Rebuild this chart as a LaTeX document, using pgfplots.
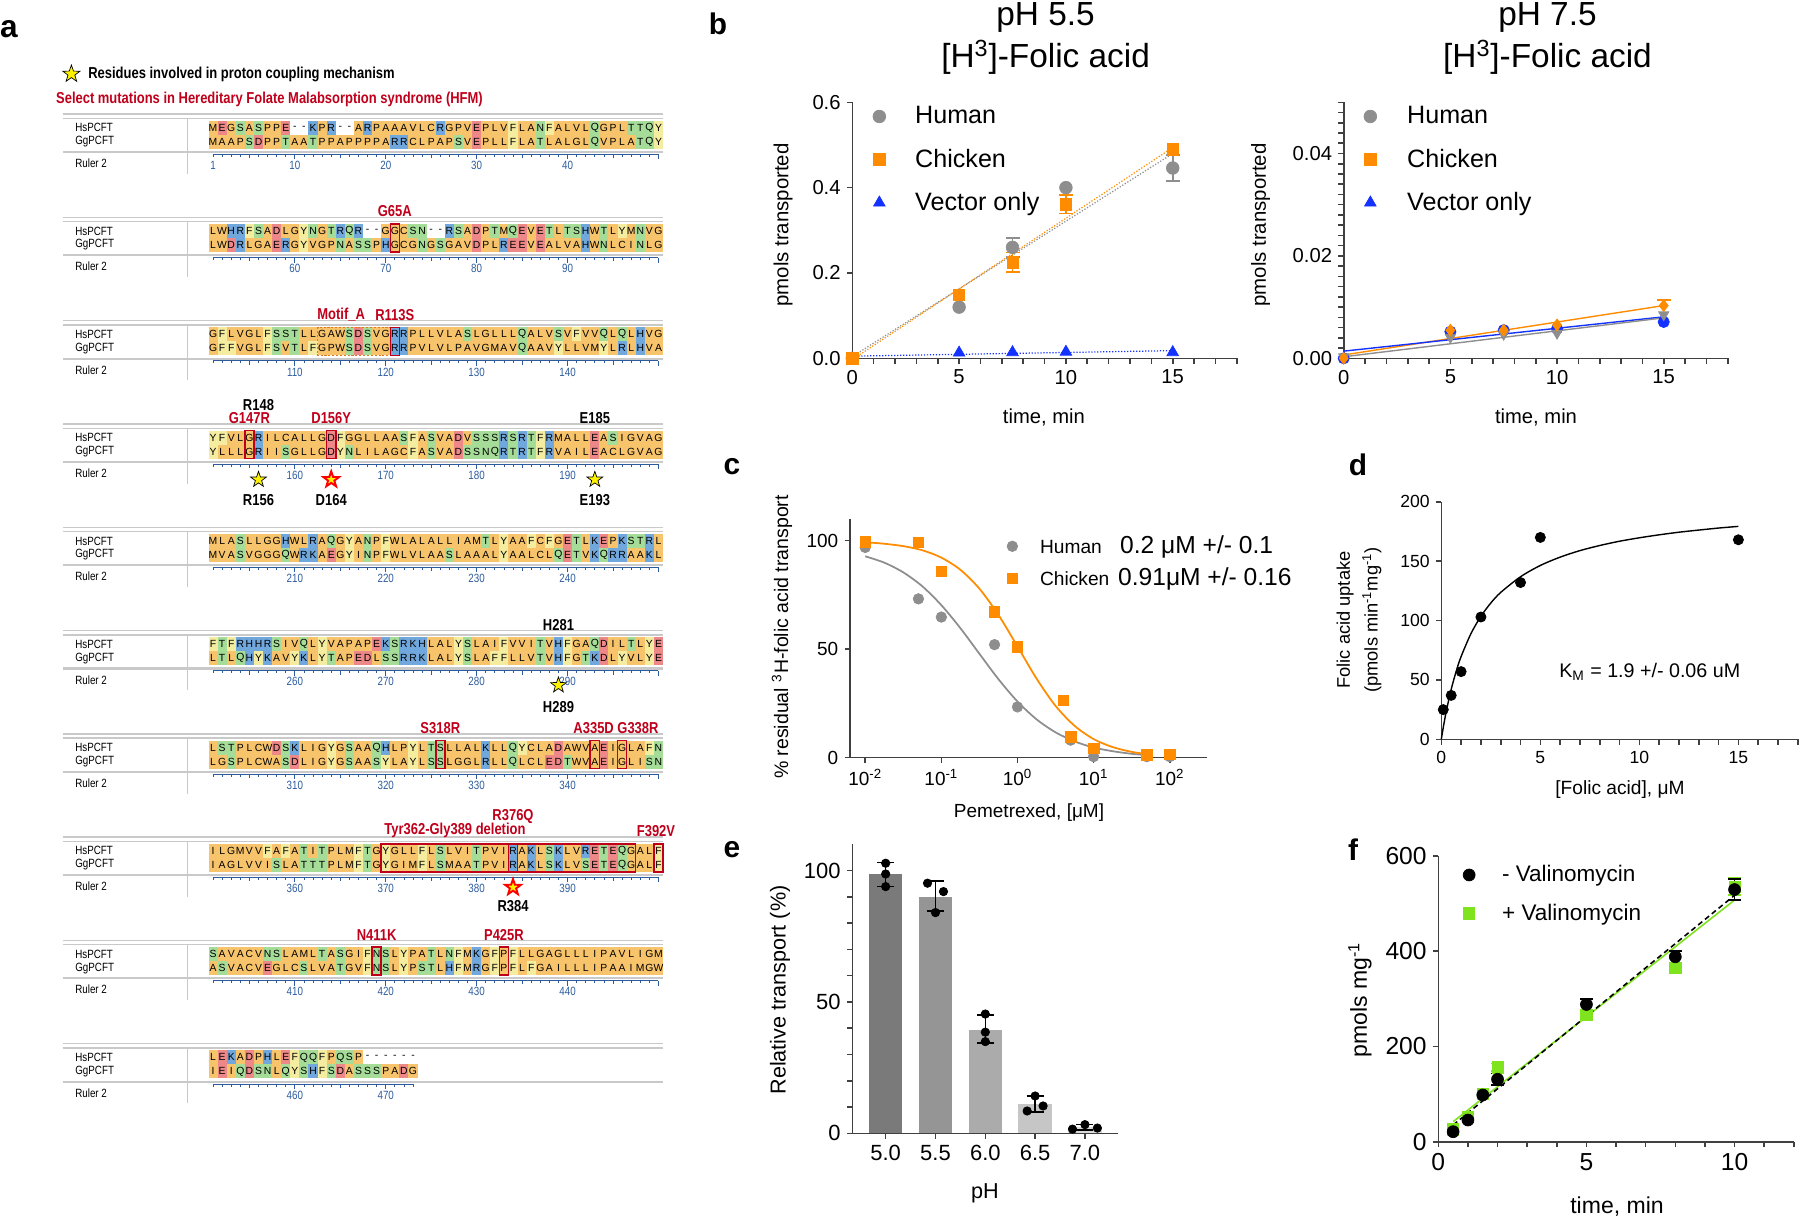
\documentclass[border=0pt]{standalone}
\usepackage{fontspec}
\setmainfont{Liberation Sans}
\newfontfamily\nar[FakeStretch=0.82]{Liberation Sans}
\usepackage{pgfplots}
\pgfplotsset{compat=1.18}
\usetikzlibrary{shapes.geometric}

\definecolor{hyd}{HTML}{F7C46C}
\definecolor{aro}{HTML}{F4EC9E}
\definecolor{pol}{HTML}{A4DC98}
\definecolor{acd}{HTML}{EE8787}
\definecolor{bas}{HTML}{70A8DE}
\definecolor{redann}{HTML}{C0001B}
\definecolor{rulc}{HTML}{2D5C9E}
\definecolor{linegray}{HTML}{C9C9C9}
\definecolor{motif}{HTML}{E07A20}
\definecolor{axc}{HTML}{404040}
\definecolor{gpgray}{HTML}{8E8E8E}
\definecolor{gporange}{HTML}{FF8C00}
\definecolor{gpblue}{HTML}{1432FF}
\definecolor{gpgreen}{HTML}{7FE31E}
\definecolor{eA}{HTML}{7A7A7A}
\definecolor{eB}{HTML}{959595}
\definecolor{eC}{HTML}{ABABAB}
\definecolor{eD}{HTML}{C6C6C6}
\definecolor{eE}{HTML}{DADADA}

\def\defrc#1#2{\expandafter\def\csname rc#1\endcsname{#2}}
\defrc{A}{hyd}\defrc{V}{hyd}\defrc{L}{hyd}\defrc{I}{hyd}\defrc{M}{hyd}
\defrc{P}{hyd}\defrc{G}{hyd}\defrc{C}{hyd}\defrc{W}{hyd}
\defrc{F}{aro}\defrc{Y}{aro}
\defrc{S}{pol}\defrc{T}{pol}\defrc{N}{pol}\defrc{Q}{pol}
\defrc{D}{acd}\defrc{E}{acd}
\defrc{K}{bas}\defrc{R}{bas}\defrc{H}{bas}
\defrc{-}{white}

\newcommand\resfont{\fontsize{5.9}{6}\selectfont}
\newcommand\lblfont{\nar\fontsize{6.8}{8}\selectfont}
\newcommand\rulfont{\nar\fontsize{6.8}{8}\selectfont}
\newcommand\annfont{\nar\bfseries\fontsize{9}{10}\selectfont}

\newcount\rcol
\def\drawres#1{%
  \pgfmathsetmacro\rx{208.5+9.09*\the\rcol}%
  \fill[\csname rc#1\endcsname] ({\rx},{\rowy-7}) rectangle ({\rx+9.09},{\rowy+7});%
  \node[font=\resfont,inner sep=0pt] at ({\rx+4.545},{\rowy}) {#1};}
\def\seqloop#1{\ifx\relax#1\else\drawres{#1}\advance\rcol by 1 \expandafter\seqloop\fi}
\def\seqrow#1#2{\def\rowy{#1}\rcol=0 \seqloop#2\relax}

\newcommand\blk[5]{%
\begin{scope}[shift={(0,#1)}]
  \draw[linegray, line width=0.8pt] (62.5,-13.7) -- (663,-13.7);
  \draw[linegray, line width=0.8pt] (62.5,-9.4) -- (663,-9.4);
  \draw[linegray, line width=1.2pt] (62.5,24.3) -- (663,24.3);
  \draw[linegray, line width=0.8pt] (187.5,-9.4) -- (187.5,46);
  \node[anchor=west,font=\lblfont,inner sep=0pt] at (75,0) {HsPCFT};
  \node[anchor=west,font=\lblfont,inner sep=0pt] at (75,14) {GgPCFT};
  \node[anchor=west,font=\lblfont,inner sep=0pt] at (75,35.6) {Ruler 2};
  \seqrow{0}{#2}
  \seqrow{14}{#3}
  \draw[rulc, line width=0.45pt] (213.05,26.5) -- ({208.5+9.09*(#4-0.5)},26.5);
  \foreach \i in {1,...,#4}{%
    \pgfmathsetmacro\tl{ifthenelse(mod(\i,10)==0,5,ifthenelse(mod(\i,5)==0,3.8,2.6))}%
    \draw[rulc, line width=0.45pt] ({208.5+9.09*(\i-0.5)},26.5) -- ++(0,\tl);}
  \foreach \i in {10,20,30,40}{\ifnum\i>#4\relax\else
    \node[font=\rulfont,text=rulc,inner sep=0pt] at ({208.5+9.09*(\i-0.5)},37.6) {\number\numexpr#5+\i\relax};\fi}
\end{scope}}

\newcommand\cx[1]{208.5+9.09*(#1-0.5)}
\newcommand\rbox[2]{\draw[redann, line width=0.9pt] ({208.5+9.09*(#2-1)},{#1-7}) rectangle ({208.5+9.09*#2},{#1+21});}
\newcommand\ann[4][redann]{\node[font=\annfont,text=#1,inner sep=0pt] at ({\cx{#2}},#3) {#4};}
\newcommand\ystar[2]{\node[star,star points=5,star point ratio=2.5,draw=black,fill=yellow,minimum size=3.3mm,inner sep=0pt,line width=0.4pt] at ({\cx{#1}},#2) {};}
\newcommand\rstar[2]{\node[star,star points=5,star point ratio=2.5,draw=red,fill=yellow,minimum size=3.3mm,inner sep=0pt,line width=1.1pt] at ({\cx{#1}},#2) {};}

\pgfplotsset{
  gp/.style={scale only axis, clip=false, axis lines=left,
    axis line style={-, draw=axc, line width=0.9pt},
    tick style={draw=axc, line width=0.9pt}, tick align=outside,
    major tick length=1.1mm, minor tick length=1.1mm,
    /pgf/number format/assume math mode=true, scaled ticks=false,
    legend cell align=left},
  mleg/.style n args={4}{legend style={at={(axis description cs:#1,#2)}, anchor=north west,
    draw=none, fill=none, inner sep=0pt, row sep=#3, nodes={inner sep=0pt},
    /tikz/every odd column/.append style={column sep=#4}},
    legend image code/.code={\draw[##1] plot coordinates {(0mm,0mm)};}},
}

\begin{document}
\begin{tikzpicture}[x=0.2mm,y=-0.2mm]
\path[use as bounding box] (0,0) rectangle (1800,1218);

% ---------------- panel a ----------------
\node[font=\bfseries\fontsize{18}{20}\selectfont,inner sep=0pt] at (9,29) {a};
\node[star,star points=5,star point ratio=2.5,draw=black,fill=yellow,minimum size=3.6mm,inner sep=0pt,line width=0.4pt] at (71.4,74) {};
\node[anchor=west,font=\annfont,inner sep=0pt] at (88,74) {Residues involved in proton coupling mechanism};
\node[anchor=west,font=\annfont,text=redann,inner sep=0pt] at (55.8,99.5) {Select mutations in Hereditary Folate Malabsorption syndrome (HFM)};

\blk{127.7}{MEGSASPPE--KPR--ARPAAAVLCRGPVEPLVFLANFALVLQGPLTTQY}{MAAPSDPPTAATPPAPPPPARRCLPAPSVEPLLFLATLALGLQVPLATQY}{50}{0}
\node[font=\rulfont,text=rulc,inner sep=0pt] at ({\cx{1}},165.3) {1};
\blk{231.0}{LWHRFSADLGYNGTRQR--GGCSN--RSADPTMQEVETLTSHWTLYMNVG}{LWDRLGAERGYVGPNASSPHGCGNGSGAVDPLREEVEALVAHWNLCINLG}{50}{50}
\blk{334.3}{GFLVGLFSSTLLGAWSDSVGRRPLLVLASLGLLLQALVSVFVVQLQLHVG}{GFFVGLFSVTLFGPWSDSVGRRPVLVLPAVGMAVQAAVYLLVMYLRLHVA}{50}{100}
\blk{437.6}{YFVLGRILCALLGDFGGLLAASFASVADVSSSRSRTFRMALLEASIGVAG}{YLLLGRIISGLLGDYNLILAGCFASVADSSNQRTRTFRVAILEACLGVAG}{50}{150}
\blk{540.9}{MLASLLGGHWLRAQGYANPFWLALALLIAMTLYAAFCFGETLKEPKSTRL}{MVASVGGGQWRKAEGYINPFWLVLAASLAAALYAALCLQETVKQRRAAKL}{50}{200}
\blk{644.2}{FTFRHHRSIVQLYVAPAPEKSRKHLALYSLAIFVVITVHFGAQDILTLYE}{LTLQHYKAVYKLYTAPEDLSSRRKLALYSLAFFLLVTVHFGTKDLYVLYE}{50}{250}
\blk{747.5}{LSTPLCWDSKLIGYGSAAQHLPYLTSLLALKLLQYCLADAWVAEIGLAFN}{LGSPLCWASDLIGYGSAASYLAYLSSLGGLRLLQLCLEDTWVAEIGLISN}{50}{300}
\blk{850.8}{ILGMVVFAFATITPLMFTGYGLLFLSLVITPVIRAKLSKLVRETEQGALF}{IAGLVVISLATTTPLMFTGYGIMFLSMAATPVIRAKLSKLVSETEQGALF}{50}{350}
\blk{954.1}{SAVACVNSLAMLTASGIFNSLYPATLNFMKGFPFLLGAGLLLIPAVLIGM}{ASVACVEGLCSLVATGVFNSLYPSTLHFMRGFPFLFGAILLLIPAAIMGW}{50}{400}
\blk{1057.4}{LEKADPHLEFQQFPQSP------}{IEIQDSNLQYSHFSDASSSPADG}{23}{450}

% annotations
\rbox{231.0}{21}\ann{21}{211.4}{G65A}
\draw[motif, line width=0.9pt, dash pattern=on 1.2pt off 1pt] (317.6,327.3) rectangle (390.3,355.3);
\node[anchor=west,font=\annfont,text=redann,inner sep=0pt] at (317,315) {Motif\_A};
\rbox{334.3}{21}\ann{21}{315}{R113S}
\rbox{437.6}{5}\rbox{437.6}{14}
\ann[black]{6}{404.6}{R148}
\ann{5}{417.9}{G147R}\ann{14}{417.9}{D156Y}\ann[black]{43}{417.9}{E185}
\ystar{6}{479.6}\rstar{14}{479.6}\ystar{43}{479.6}
\ann[black]{6}{499.6}{R156}\ann[black]{14}{499.6}{D164}\ann[black]{43}{499.6}{E193}
\ann[black]{39}{625.2}{H281}
\ystar{39}{685.2}\ann[black]{39}{706.9}{H289}
\rbox{747.5}{26}\rbox{747.5}{43}\rbox{747.5}{46}
\ann{26}{727.9}{S318R}
\node[font=\annfont,text=redann,inner sep=0pt] at (616,727.9) {A335D G338R};
\draw[redann, line width=0.9pt] (381.2,843.8) rectangle (635.7,871.8);
\rbox{850.8}{34}\rbox{850.8}{50}
\ann{34}{816.1}{R376Q}
\node[font=\annfont,text=redann,inner sep=0pt] at (455,830.8) {Tyr362-Gly389 deletion};
\node[font=\annfont,text=redann,inner sep=0pt] at (656,830.8) {F392V};
\rstar{34}{887.4}\ann[black]{34}{906}{R384}
\rbox{954.1}{19}\rbox{954.1}{33}
\ann{19}{934.8}{N411K}\ann{33}{934.8}{P425R}

% ---------------- panel letters ----------------
\node[font=\bfseries\fontsize{17}{19}\selectfont,inner sep=0pt] at (718,24) {b};
\node[font=\bfseries\fontsize{17}{19}\selectfont,inner sep=0pt] at (732,467) {c};
\node[font=\bfseries\fontsize{17}{19}\selectfont,inner sep=0pt] at (1358,465) {d};
\node[font=\bfseries\fontsize{17}{19}\selectfont,inner sep=0pt] at (732,850) {e};
\node[font=\bfseries\fontsize{17}{19}\selectfont,inner sep=0pt] at (1353,850) {f};

% ---------------- panel b (pH 5.5) ----------------
\node[font=\fontsize{19}{22}\selectfont,inner sep=0pt] at (1045.6,17) {pH 5.5};
\node[font=\fontsize{19}{22}\selectfont,inner sep=0pt] at (1045.6,57) {[H\textsuperscript{3}]-Folic acid};
\node[rotate=90,font=\fontsize{11.6}{13}\selectfont,inner sep=0pt] at (783.2,225) {pmols transported};
\node[font=\fontsize{11.5}{13}\selectfont,inner sep=0pt] at (1043.9,417) {time, min};
\coordinate (B1) at (852.3,358.3);
\begin{axis}[gp, at={(B1)}, anchor=south west, width=76.9mm, height=51.2mm,
  xmin=0, xmax=18, ymin=0, ymax=0.6,
  xtick={0,5,10,15}, minor xtick={1,2,3,4,6,7,8,9,11,12,13,14,16,17,18},
  ytick={0,0.2,0.4,0.6},
  yticklabel style={/pgf/number format/.cd,fixed,fixed zerofill,precision=1},
  tick label style={font=\fontsize{11.5}{13}\selectfont},
  mleg={0.053}{0.985}{4.5mm}{5.9mm},
  legend style={font=\fontsize{14.3}{16}\selectfont}]
\addlegendimage{only marks, mark=*, gpgray, mark size=3.6pt}
\addlegendentry{Human}
\addlegendimage{only marks, mark=square*, gporange, mark size=3.2pt}
\addlegendentry{Chicken}
\addlegendimage{only marks, mark=triangle*, gpblue, mark size=3.8pt}
\addlegendentry{Vector only}
\addplot[gpgray, densely dotted, line width=0.7pt, forget plot] coordinates {(0,0.004) (15,0.48)};
\addplot[gporange, densely dotted, line width=0.7pt, forget plot] coordinates {(0,-0.003) (15,0.494)};
\addplot[gpblue, densely dotted, line width=0.7pt, forget plot] coordinates {(0,0.005) (15,0.018)};
\addplot[only marks, mark=*, gpgray, mark size=3.6pt, forget plot,
  error bars/.cd, y dir=both, y explicit, error bar style={gpgray, line width=0.9pt},
  error mark options={rotate=90, gpgray, mark size=1.4mm, line width=0.9pt}]
  coordinates {(0,0) (5,0.12) (7.5,0.26) +- (0,0.022) (10,0.40) (15,0.446) +- (0,0.031)};
\addplot[only marks, mark=square*, gporange, mark size=3.2pt, forget plot,
  error bars/.cd, y dir=both, y explicit, error bar style={gporange, line width=0.9pt},
  error mark options={rotate=90, gporange, mark size=1.4mm, line width=0.9pt}]
  coordinates {(0,0) (5,0.148) (7.5,0.225) +- (0,0.023) (10,0.361) +- (0,0.022) (15,0.49)};
\addplot[only marks, mark=triangle*, gpblue, mark size=3.8pt, forget plot]
  coordinates {(5,0.013) (7.5,0.014) (10,0.015) (15,0.014)};
\end{axis}

% ---------------- panel b (pH 7.5) ----------------
\node[font=\fontsize{19}{22}\selectfont,inner sep=0pt] at (1547.5,17) {pH 7.5};
\node[font=\fontsize{19}{22}\selectfont,inner sep=0pt] at (1547.5,57) {[H\textsuperscript{3}]-Folic acid};
\node[rotate=90,font=\fontsize{11.6}{13}\selectfont,inner sep=0pt] at (1260.5,225) {pmols transported};
\node[font=\fontsize{11.5}{13}\selectfont,inner sep=0pt] at (1536,417) {time, min};
\coordinate (B2) at (1343.7,358.3);
\begin{axis}[gp, at={(B2)}, anchor=south west, width=76.8mm, height=51.2mm,
  xmin=0, xmax=18, ymin=0, ymax=0.05,
  xtick={0,5,10,15}, minor xtick={1,2,3,4,6,7,8,9,11,12,13,14,16,17,18},
  ytick={0,0.02,0.04},
  minor ytick={0.002,0.004,0.006,0.008,0.01,0.012,0.014,0.016,0.018,0.022,0.024,0.026,0.028,0.03,0.032,0.034,0.036,0.038,0.042,0.044,0.046,0.048,0.05},
  yticklabel style={/pgf/number format/.cd,fixed,fixed zerofill,precision=2},
  tick label style={font=\fontsize{11.5}{13}\selectfont},
  mleg={0.052}{0.985}{4.5mm}{6.1mm},
  legend style={font=\fontsize{14.3}{16}\selectfont}]
\addlegendimage{only marks, mark=*, gpgray, mark size=3.6pt}
\addlegendentry{Human}
\addlegendimage{only marks, mark=square*, gporange, mark size=3.2pt}
\addlegendentry{Chicken}
\addlegendimage{only marks, mark=triangle*, gpblue, mark size=3.8pt}
\addlegendentry{Vector only}
\addplot[gporange, line width=0.8pt, forget plot] coordinates {(0,0.00065) (15,0.0103)};
\addplot[gpblue, line width=0.8pt, forget plot] coordinates {(0,0.0014) (15,0.0081)};
\addplot[gpgray, line width=0.8pt, forget plot] coordinates {(0,0.0003) (15,0.0079)};
\addplot[only marks, mark=*, gpblue, mark size=3.2pt, forget plot]
  coordinates {(0,0) (5,0.0052) (7.5,0.0055) (10,0.0058) (15,0.0071)};
\addplot[only marks, mark=triangle*, mark options={rotate=180}, gpgray, mark size=3.4pt, forget plot]
  coordinates {(0,0.0003) (5,0.0041) (7.5,0.0047) (10,0.0049) (15,0.0085)};
\addplot[only marks, mark=diamond*, gporange, mark size=3.4pt, forget plot,
  error bars/.cd, y dir=plus, y explicit, error bar style={gporange, line width=0.9pt},
  error mark options={rotate=90, gporange, mark size=1.4mm, line width=0.9pt}]
  coordinates {(0,0) (5,0.0055) (7.5,0.0055) (10,0.0065) (15,0.0103) +- (0,0.0011)};
\end{axis}

% ---------------- panel c ----------------
\node[font=\fontsize{10.8}{13}\selectfont,inner sep=0pt] at (1029,813) {Pemetrexed, [μM]};
\node[rotate=90,font=\fontsize{11.1}{13}\selectfont,inner sep=0pt] at (782,637) {\% residual \textsuperscript{3}H-folic acid transport};
\coordinate (C) at (850,757.7);
\begin{axis}[gp, at={(C)}, anchor=south west, width=71.4mm, height=47.74mm,
  xmode=log, xmin=0.00631, xmax=309, ymin=0, ymax=110,
  xtick={0.01,0.1,1,10,100}, xminorticks=false,
  xticklabels={10\textsuperscript{-2},10\textsuperscript{-1},10\textsuperscript{0},10\textsuperscript{1},10\textsuperscript{2}},
  ytick={0,50,100},
  tick label style={font=\fontsize{10.8}{13}\selectfont},
  mleg={0.439}{0.93}{2.3mm}{4.5mm},
  legend style={font=\fontsize{10.9}{13}\selectfont}]
\addlegendimage{only marks, mark=*, gpgray, mark size=3pt}
\addlegendentry{\makebox[16mm][l]{Human}{\fontsize{14}{16}\selectfont 0.2 μM +/- 0.1}}
\addlegendimage{only marks, mark=square*, gporange, mark size=3pt}
\addlegendentry{\makebox[15.6mm][l]{Chicken}{\fontsize{14}{16}\selectfont 0.91μM +/- 0.16}}
\addplot[gpgray, line width=1pt, smooth, forget plot] coordinates {
 (0.01,92.8) (0.01778,89.9) (0.03162,85.4) (0.05623,79.0) (0.1,70.3) (0.1778,59.7)
 (0.3162,47.9) (0.5623,36.2) (1,25.9) (1.778,17.7) (3.162,11.7) (5.623,7.5)
 (10,4.7) (17.78,3.0) (31.62,1.8) (50.12,1.2)};
\addplot[gporange, line width=1pt, smooth, forget plot] coordinates {
 (0.01,99.3) (0.01778,98.6) (0.03162,97.5) (0.05623,95.6) (0.1,92.2) (0.1778,86.6)
 (0.3162,77.9) (0.5623,65.8) (1,51.3) (1.778,36.5) (3.162,23.9) (5.623,14.7)
 (10,8.6) (17.78,4.9) (31.62,2.7) (50.12,1.7)};
\addplot[only marks, mark=*, gpgray, mark size=3pt, forget plot] coordinates {
 (0.01,96.9) (0.05,73.2) (0.1,64.8) (0.5,52.1) (1,23.4) (5,8.1) (10,0.5) (50,0.5) (100,0.5)};
\addplot[only marks, mark=square*, gporange, mark size=3pt, forget plot] coordinates {
 (0.01,99.5) (0.05,99.2) (0.1,85.9) (0.5,67.1) (1,51) (4,26.5) (5,9.6) (10,4.3) (50,1.2) (100,1.5)};
\end{axis}

% ---------------- panel d ----------------
\node[font=\fontsize{10.9}{13}\selectfont,inner sep=0pt] at (1620,790) {[Folic acid], μM};
\node[rotate=90,font=\fontsize{10.4}{15.8}\selectfont,inner sep=0pt,align=center] at (1359,620) {Folic acid uptake\\(pmols min\textsuperscript{-1}mg\textsuperscript{-1})};
\node[anchor=west,font=\fontsize{11.2}{13}\selectfont,inner sep=0pt] at (1559,672) {K\textsubscript{M} = 1.9 +/- 0.06 uM};
\coordinate (D) at (1441.3,739.3);
\begin{axis}[gp, at={(D)}, anchor=south west, width=71.3mm, height=47.5mm,
  xmin=0, xmax=18, ymin=0, ymax=200,
  xtick={0,5,10,15}, minor xtick={1,2,3,4,6,7,8,9,11,12,13,14,16,17,18},
  ytick={0,50,100,150,200},
  tick label style={font=\fontsize{10}{12}\selectfont}]
\addplot[black, line width=0.8pt, smooth] coordinates {
 (0,0) (0.1,10.1) (0.25,23.5) (0.5,42.1) (0.75,57.2) (1,69.7) (1.5,89.1) (2,103.6)
 (2.5,114.8) (3,123.7) (4,136.9) (5,146.4) (6,153.4) (7,158.9) (8,163.2) (9,166.8)
 (10,169.7) (11,172.2) (12,174.4) (13,176.2) (14,177.9) (15,179.3)};
\addplot[only marks, mark=*, black, mark size=2.9pt] coordinates {
 (0.1,25) (0.5,37) (1,57) (2,103) (4,132) (5,170) (15,168)};
\end{axis}

% ---------------- panel e ----------------
\node[font=\fontsize{12.3}{14}\selectfont,inner sep=0pt] at (985,1193) {pH};
\node[rotate=90,font=\fontsize{12.3}{14}\selectfont,inner sep=0pt] at (780,990) {Relative transport (\%)};
\coordinate (E) at (852.3,1133.3);
\begin{axis}[gp, at={(E)}, anchor=south west, width=53.2mm, height=57.8mm,
  xmin=-0.67, xmax=4.67, ymin=0, ymax=110,
  xtick={0,1,2,3,4}, xticklabels={5.0,5.5,6.0,6.5,7.0},
  ytick={0,50,100}, minor ytick={10,20,30,40,60,70,80,90},
  tick label style={font=\fontsize{12.5}{14}\selectfont}]
\addplot[ybar, bar width=0.67, bar shift=0pt, fill=eA, draw=none] coordinates {(0,98.6)};
\addplot[ybar, bar width=0.67, bar shift=0pt, fill=eB, draw=none] coordinates {(1,90.1)};
\addplot[ybar, bar width=0.67, bar shift=0pt, fill=eC, draw=none] coordinates {(2,39.3)};
\addplot[ybar, bar width=0.67, bar shift=0pt, fill=eD, draw=none] coordinates {(3,11.2)};
\addplot[ybar, bar width=0.67, bar shift=0pt, fill=eE, draw=none] coordinates {(4,2.3)};
\addplot[draw=none, mark=none, error bars/.cd, y dir=both, y explicit,
  error bar style={draw=black, line width=0.9pt, solid},
  error mark options={rotate=90, draw=black, mark size=1.7mm, line width=0.9pt}]
  coordinates {(0,98.6) += (0,4.4) -= (0,4.7) (1,90.1) += (0,6) -= (0,5.5)
    (2,39.3) += (0,5.8) -= (0,5) (3,11.2) += (0,3) -= (0,3.1) (4,2.3) += (0,1) -= (0,1)};
\addplot[only marks, mark=*, black, mark size=2.4pt] coordinates {
 (0,102.8) (0,98.7) (0,93.9) (0.84,95.2) (1.16,92.0) (1,84.0) (2,45.4) (2,38.5) (2,34.9)
 (3,14.2) (2.84,8.5) (3.16,10.4) (3.75,1.6) (4,3.3) (4.25,2.0)};
\end{axis}

% ---------------- panel f ----------------
\node[font=\fontsize{13.1}{15}\selectfont,inner sep=0pt] at (1617,1207) {time, min};
\node[rotate=90,font=\fontsize{13.1}{15}\selectfont,inner sep=0pt] at (1360,1000) {pmols mg\textsuperscript{-1}};
\coordinate (F) at (1438.3,1141.7);
\begin{axis}[gp, at={(F)}, anchor=south west, width=71.1mm, height=57.2mm,
  xmin=0, xmax=12, ymin=0, ymax=600,
  xtick={0,5,10}, minor xtick={1,2,3,4,6,7,8,9,11,12},
  ytick={0,200,400,600},
  tick label style={font=\fontsize{14}{16}\selectfont},
  mleg={0.069}{0.967}{3.9mm}{5.4mm},
  legend style={font=\fontsize{12.8}{15}\selectfont}]
\addlegendimage{only marks, mark=*, black, mark size=3.4pt}
\addlegendentry{- Valinomycin}
\addlegendimage{only marks, mark=square*, gpgreen, mark size=3.2pt}
\addlegendentry{+ Valinomycin}
\addplot[gpgreen, line width=0.9pt, forget plot] coordinates {(0.5,42) (10,507)};
\addplot[only marks, mark=square*, gpgreen, mark size=3.2pt, forget plot,
  error bars/.cd, y dir=both, y explicit, error bar style={gpgreen, line width=0.9pt},
  error mark options={rotate=90, gpgreen, mark size=1.3mm, line width=0.9pt}]
  coordinates {(0.5,26) (1,52) (1.5,101) (2,156) +- (0,8) (5,266) (8,364) +- (0,10) (10,535) +- (0,18)};
\addplot[black, densely dashed, line width=0.9pt, forget plot] coordinates {(0.5,35) (10,517)};
\addplot[only marks, mark=*, black, mark size=3.4pt, forget plot,
  error bars/.cd, y dir=both, y explicit, error bar style={black, line width=0.9pt},
  error mark options={rotate=90, black, mark size=1.3mm, line width=0.9pt}]
  coordinates {(0.5,21) (1,45.5) (1.5,98) (2,131) +- (0,12) (5,288) +- (0,12) (8,388) +- (0,12) (10,529) +- (0,22)};
\end{axis}
\end{tikzpicture}
\end{document}
